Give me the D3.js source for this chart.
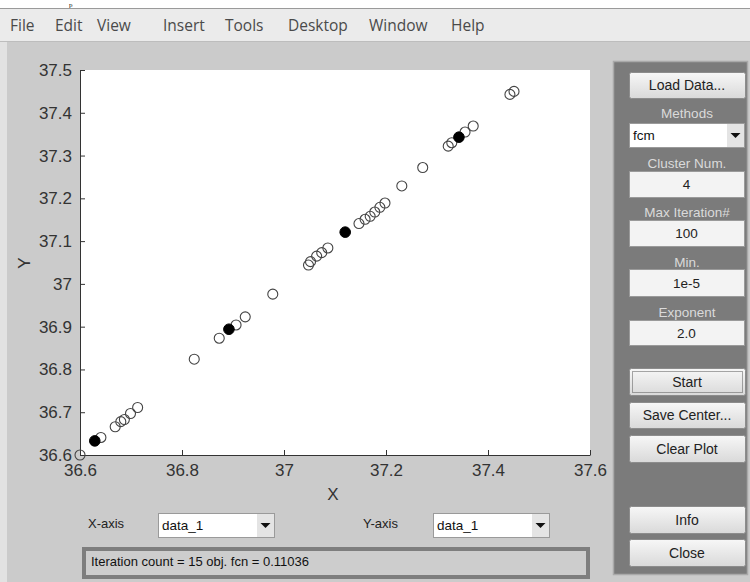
<!DOCTYPE html>
<html>
<head>
<meta charset="utf-8">
<script src="https://cdn.jsdelivr.net/npm/d3@7"></script>
<style>
  body { margin: 0; background: #cbcbcb; }
  svg { display: block; }
</style>
</head>
<body>
<svg id="fig" width="750" height="582"></svg>
<script>
// data
const xOpen = [36.600, 36.641, 36.669, 36.680, 36.687, 36.699, 36.713, 36.824, 36.873, 36.906, 36.924, 36.978,
  37.048, 37.052, 37.064, 37.074, 37.086, 37.147, 37.159, 37.169, 37.178, 37.188, 37.198, 37.231, 37.272,
  37.322, 37.329, 37.355, 37.371, 37.443, 37.451];
const yOpen = [36.600, 36.641, 36.666, 36.678, 36.683, 36.697, 36.711, 36.824, 36.873, 36.904, 36.923, 36.976,
  37.044, 37.052, 37.065, 37.073, 37.084, 37.141, 37.151, 37.158, 37.168, 37.179, 37.189, 37.229, 37.272,
  37.322, 37.330, 37.355, 37.369, 37.443, 37.450];
const xCenter = [36.629, 36.892, 37.120, 37.343];
const yCenter = [36.633, 36.894, 37.121, 37.343];

const xTicks = [36.6, 36.8, 37, 37.2, 37.4, 37.6];
const xTickLabels = ['36.6', '36.8', '37', '37.2', '37.4', '37.6'];
const yTicks = [36.6, 36.7, 36.8, 36.9, 37, 37.1, 37.2, 37.3, 37.4, 37.5];
const yTickLabels = ['36.6', '36.7', '36.8', '36.9', '37', '37.1', '37.2', '37.3', '37.4', '37.5'];

const menuItems = ['File', 'Edit', 'View', 'Insert', 'Tools', 'Desktop', 'Window', 'Help'];
const menuX = [10, 55, 97, 163, 225, 288, 369, 451];

const svg = d3.select('#fig');
const sans = '"Liberation Sans", Arial, sans-serif';

// gradients for buttons
const defs = svg.append('defs');
const grad = defs.append('linearGradient').attr('id', 'btn').attr('x1', 0).attr('y1', 0).attr('x2', 0).attr('y2', 1);
grad.append('stop').attr('offset', '0%').attr('stop-color', '#f7f7f7');
grad.append('stop').attr('offset', '100%').attr('stop-color', '#d9d9d9');

// window chrome
svg.append('rect').attr('x', 0).attr('y', 0).attr('width', 750).attr('height', 582).attr('fill', '#cbcbcb');
svg.append('rect').attr('x', 0).attr('y', 0).attr('width', 750).attr('height', 8).attr('fill', '#fff');
svg.append('text').attr('x', 69).attr('y', 6.5).attr('font-family', '"Liberation Serif", serif')
  .attr('font-size', 7).attr('fill', '#111').text('p');
svg.append('rect').attr('x', 0).attr('y', 9).attr('width', 750).attr('height', 32).attr('fill', '#ebebeb');
svg.append('line').attr('x1', 0).attr('x2', 750).attr('y1', 8.5).attr('y2', 8.5).attr('stroke', '#9a9a9a');
svg.append('line').attr('x1', 0).attr('x2', 750).attr('y1', 41.5).attr('y2', 41.5).attr('stroke', '#bdbdbd');
svg.append('rect').attr('x', 0).attr('y', 42).attr('width', 7).attr('height', 540).attr('fill', '#e2e2e2');

svg.selectAll('text.menu').data(menuItems).join('text')
  .attr('class', 'menu')
  .attr('x', (d, i) => menuX[i])
  .attr('y', 31)
  .attr('font-family', '"Open Sans", "Noto Sans", sans-serif')
  .attr('font-size', 15.5)
  .attr('fill', '#4a4a4a')
  .text(d => d);

// plot
const x = d3.scaleLinear().domain([36.6, 37.6]).range([80, 590]);
const y = d3.scaleLinear().domain([36.6, 37.5]).range([455, 70]);

svg.append('rect').attr('x', 80).attr('y', 70).attr('width', 510).attr('height', 385).attr('fill', '#fff');

const xAxis = svg.append('g').attr('transform', 'translate(0,455)')
  .call(d3.axisBottom(x).tickValues(xTicks).tickFormat((d, i) => xTickLabels[i])
    .tickSizeInner(-5).tickSizeOuter(0).tickPadding(9));
const yAxis = svg.append('g').attr('transform', 'translate(80,0)')
  .call(d3.axisLeft(y).tickValues(yTicks).tickFormat((d, i) => yTickLabels[i])
    .tickSizeInner(-5).tickSizeOuter(0).tickPadding(8));

[xAxis, yAxis].forEach(a => {
  a.select('.domain').attr('stroke', '#333');
  a.selectAll('.tick line').attr('stroke', '#333');
  a.selectAll('.tick text').attr('font-family', sans).attr('font-size', 17).attr('fill', '#333');
});

svg.append('text').attr('x', 333).attr('y', 500).attr('text-anchor', 'middle')
  .attr('font-family', sans).attr('font-size', 17).attr('fill', '#333').text('X');
svg.append('text').attr('transform', 'translate(30,263) rotate(-90)').attr('text-anchor', 'middle')
  .attr('font-family', sans).attr('font-size', 17).attr('fill', '#333').text('Y');

const openPts = xOpen.map((v, i) => ({ x: v, y: yOpen[i] }));
const centerPts = xCenter.map((v, i) => ({ x: v, y: yCenter[i] }));

svg.append('g').selectAll('circle').data(openPts).join('circle')
  .attr('cx', d => x(d.x)).attr('cy', d => y(d.y)).attr('r', 5)
  .attr('fill', 'none').attr('stroke', '#444').attr('stroke-width', 1.1);
svg.append('g').selectAll('circle').data(centerPts).join('circle')
  .attr('cx', d => x(d.x)).attr('cy', d => y(d.y)).attr('r', 5.3)
  .attr('fill', '#000').attr('stroke', '#000');

// right control panel
svg.append('rect').attr('x', 613.5).attr('y', 61.5).attr('width', 134).attr('height', 513)
  .attr('fill', '#7b7b7b').attr('stroke', '#a9a9a9').attr('stroke-width', 1.5);

function button(bx, by, w, h, label, focus) {
  const g = svg.append('g');
  g.append('rect').attr('x', bx + 0.5).attr('y', by + 0.5).attr('width', w).attr('height', h).attr('rx', 2)
    .attr('fill', 'url(#btn)').attr('stroke', '#8c8c8c');
  if (focus) {
    g.append('rect').attr('x', bx + 3.5).attr('y', by + 3.5).attr('width', w - 6).attr('height', h - 6)
      .attr('fill', 'none').attr('stroke', '#555').attr('stroke-dasharray', '1,1');
  }
  g.append('text').attr('x', bx + w / 2).attr('y', by + h / 2 + 5).attr('text-anchor', 'middle')
    .attr('font-family', sans).attr('font-size', 14).attr('fill', '#222').text(label);
}

function editBox(bx, by, w, h, val) {
  svg.append('rect').attr('x', bx + 0.5).attr('y', by + 0.5).attr('width', w).attr('height', h)
    .attr('fill', '#f3f3f3').attr('stroke', '#9a9a9a');
  svg.append('text').attr('x', bx + w / 2).attr('y', by + h / 2 + 5).attr('text-anchor', 'middle')
    .attr('font-family', sans).attr('font-size', 13.5).attr('fill', '#222').text(val);
}

function panelLabel(cy, label) {
  svg.append('text').attr('x', 687).attr('y', cy + 5).attr('text-anchor', 'middle')
    .attr('font-family', sans).attr('font-size', 13.5).attr('fill', '#dadada').text(label);
}

function dropDown(bx, by, w, h, val) {
  svg.append('rect').attr('x', bx + 0.5).attr('y', by + 0.5).attr('width', w).attr('height', h)
    .attr('fill', '#fff').attr('stroke', '#9a9a9a');
  svg.append('rect').attr('x', bx + w - 17).attr('y', by + 1).attr('width', 17).attr('height', h - 1)
    .attr('fill', '#e4e4e4');
  const ax = bx + w - 8.5, ay = by + h / 2;
  svg.append('path').attr('d', `M${ax - 5},${ay - 2} L${ax + 5},${ay - 2} L${ax},${ay + 3} Z`).attr('fill', '#111');
  svg.append('text').attr('x', bx + 4).attr('y', by + h / 2 + 5)
    .attr('font-family', sans).attr('font-size', 13.5).attr('fill', '#111').text(val);
}

button(629, 72, 116, 26, 'Load Data...', false);
panelLabel(113, 'Methods');
dropDown(629, 123, 115, 24, 'fcm');
panelLabel(163, 'Cluster Num.');
editBox(629, 171, 115, 26, '4');
panelLabel(212, 'Max Iteration#');
editBox(629, 220, 115, 26, '100');
panelLabel(262, 'Min.');
editBox(629, 269, 115, 27, '1e-5');
panelLabel(312, 'Exponent');
editBox(629, 320, 115, 25, '2.0');
button(629, 368, 116, 27, 'Start', true);
button(629, 402, 116, 26, 'Save Center...', false);
button(629, 435, 116, 27, 'Clear Plot', false);
button(629, 506, 116, 27, 'Info', false);
button(629, 539, 116, 27, 'Close', false);

// bottom controls
svg.append('text').attr('x', 88).attr('y', 528).attr('font-family', sans).attr('font-size', 13)
  .attr('fill', '#222').text('X-axis');
dropDown(158, 513, 116, 24, 'data_1');
svg.append('text').attr('x', 363).attr('y', 528).attr('font-family', sans).attr('font-size', 13)
  .attr('fill', '#222').text('Y-axis');
dropDown(433, 513, 116, 24, 'data_1');

svg.append('rect').attr('x', 82).attr('y', 547).attr('width', 508).attr('height', 32).attr('fill', '#7e7e7e');
svg.append('rect').attr('x', 86).attr('y', 551).attr('width', 500).attr('height', 24).attr('fill', '#cdcdcd');
svg.append('text').attr('x', 91).attr('y', 566).attr('font-family', sans).attr('font-size', 13)
  .attr('fill', '#111').text('Iteration count = 15 obj. fcn = 0.11036');
</script>
</body>
</html>
